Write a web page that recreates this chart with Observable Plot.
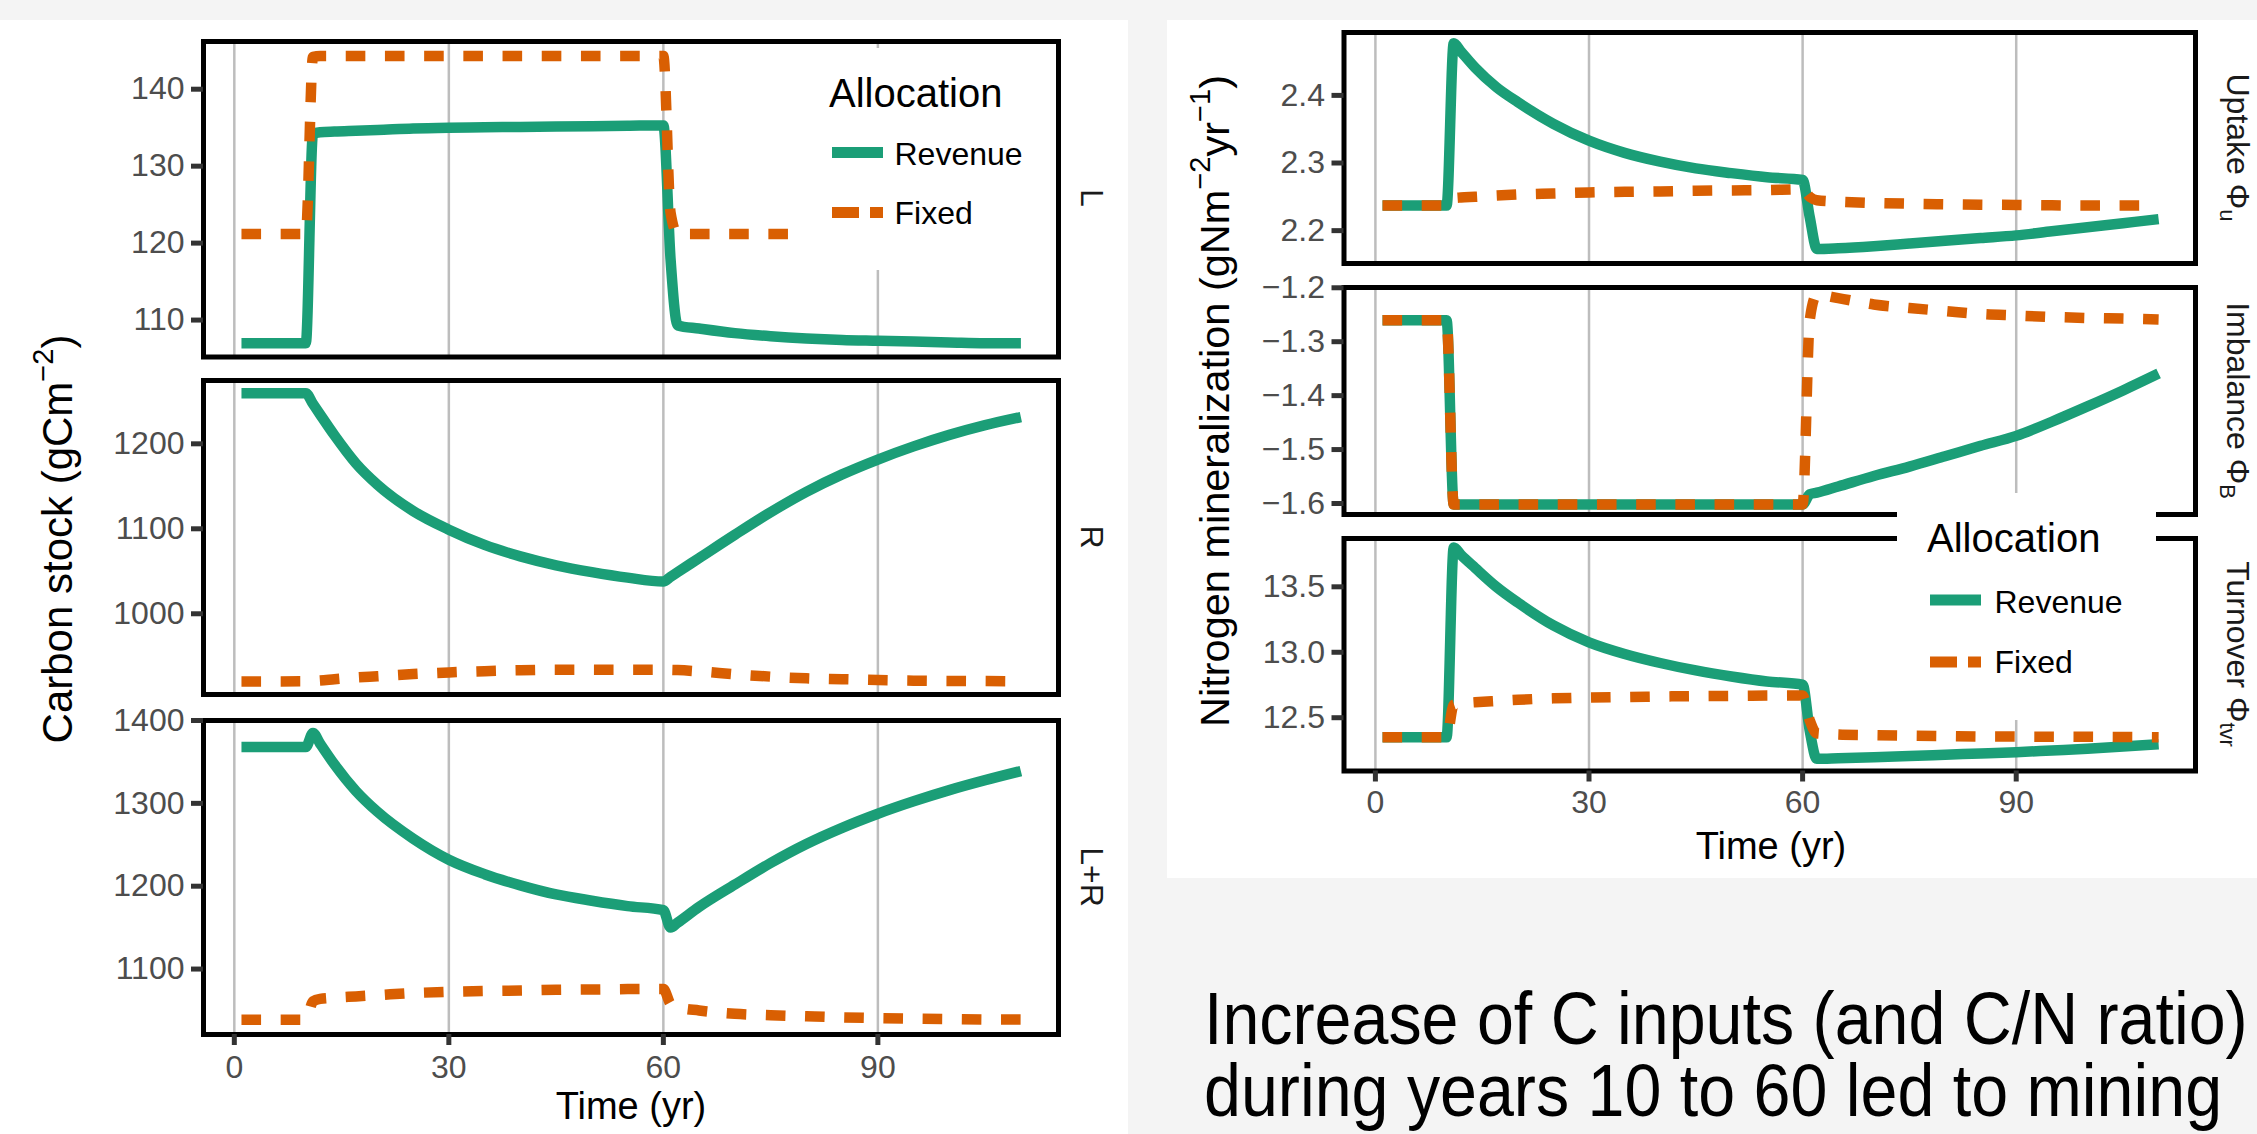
<!DOCTYPE html>
<html>
<head>
<meta charset="utf-8">
<script src="https://cdn.jsdelivr.net/npm/d3@7"></script>
<script src="https://cdn.jsdelivr.net/npm/@observablehq/plot@0.6"></script>
<style>
html, body { margin:0; padding:0; background:#f4f4f4; }
#page { position:relative; width:2257px; height:1134px; overflow:hidden; background:#f4f4f4; }
.panel { position:absolute; background:#fff; }
</style>
</head>
<body>
<div id="page">
  <div class="panel" style="left:0;top:20px;width:1128px;height:1114px"></div>
  <div class="panel" style="left:1167px;top:20px;width:1090px;height:858px"></div>
</div>
<script>
// ---------------- DATA ----------------
const years = [1, 10, 11, 12, 14, 17, 20, 25, 30, 35, 40, 45, 50, 55, 60, 61, 62, 65, 70, 75, 80, 85, 90, 95, 100, 105, 110];

// Carbon stock (gC m-2)
const leafRevenue  = [107.0, 107.0, 134.2, 134.4, 134.5, 134.6, 134.7, 134.9, 135.0, 135.05, 135.1, 135.15, 135.2, 135.25, 135.3, 118.0, 109.3, 108.9, 108.3, 107.9, 107.6, 107.4, 107.3, 107.2, 107.1, 107.0, 107.0];
const leafFixed    = [121.2, 121.2, 144.2, 144.3, 144.3, 144.3, 144.3, 144.3, 144.3, 144.3, 144.3, 144.3, 144.3, 144.3, 144.3, 124.0, 121.2, 121.2, 121.2, 121.2, 121.2, 121.2, 121.2, 121.2, 121.2, 121.2, 121.2];
const rootRevenue  = [1259.5, 1259.5, 1247, 1234.5, 1210, 1177, 1152, 1121, 1099, 1081, 1067.5, 1057, 1049, 1042.5, 1038, 1043.5, 1049, 1065.5, 1093, 1119.5, 1143.5, 1164, 1181.5, 1197, 1210.5, 1222, 1231.5];
const rootFixed    = [920.4, 920.5, 921, 921.5, 923, 925, 926.5, 929, 931, 932.5, 933.5, 934, 934, 934, 934, 934, 933.7, 932.2, 928.8, 926, 924, 923, 922, 921.3, 921, 920.8, 920.5];
const totalRevenue = [1368, 1368, 1385, 1372, 1347, 1315, 1290, 1257.5, 1232, 1214.5, 1201, 1190, 1182.5, 1176, 1171, 1150, 1156, 1175, 1202, 1228, 1251, 1270.5, 1287.5, 1302.5, 1316, 1328, 1339];
const totalFixed   = [1038.8, 1038.8, 1061, 1064, 1065.5, 1067, 1068.5, 1071, 1072.5, 1073.5, 1074, 1075, 1075.3, 1075.8, 1076, 1058, 1054, 1050, 1046, 1044.3, 1043, 1041.7, 1040.8, 1040.2, 1039.7, 1039.2, 1039];

// Nitrogen mineralization (gN m-2 yr-1)
const uptakeRevenue    = [2.237, 2.237, 2.477, 2.465, 2.441, 2.412, 2.390, 2.358, 2.333, 2.315, 2.302, 2.292, 2.285, 2.279, 2.275, 2.220, 2.173, 2.174, 2.177, 2.181, 2.185, 2.189, 2.193, 2.199, 2.205, 2.211, 2.217];
const uptakeFixed      = [2.237, 2.237, 2.248, 2.249, 2.250, 2.252, 2.2535, 2.255, 2.2565, 2.2575, 2.258, 2.259, 2.2595, 2.260, 2.261, 2.250, 2.245, 2.243, 2.241, 2.2398, 2.239, 2.2383, 2.238, 2.2375, 2.237, 2.237, 2.237];
const imbalanceRevenue = [-1.26, -1.26, -1.602, -1.602, -1.602, -1.602, -1.602, -1.602, -1.602, -1.602, -1.602, -1.602, -1.602, -1.602, -1.602, -1.583, -1.580, -1.5685, -1.549, -1.5316, -1.5124, -1.493, -1.4746, -1.4484, -1.420, -1.3904, -1.359];
const imbalanceFixed   = [-1.26, -1.26, -1.602, -1.602, -1.602, -1.602, -1.602, -1.602, -1.602, -1.602, -1.602, -1.602, -1.602, -1.602, -1.602, -1.26, -1.213, -1.2192, -1.231, -1.2375, -1.2432, -1.2486, -1.2514, -1.2541, -1.256, -1.2572, -1.2588];
const turnoverRevenue  = [12.351, 12.351, 13.80, 13.745, 13.645, 13.50, 13.38, 13.205, 13.076, 12.987, 12.918, 12.861, 12.815, 12.777, 12.753, 12.40, 12.186, 12.19, 12.198, 12.207, 12.217, 12.227, 12.237, 12.25, 12.263, 12.28, 12.297];
const turnoverFixed    = [12.351, 12.351, 12.60, 12.61, 12.618, 12.628, 12.637, 12.648, 12.654, 12.658, 12.662, 12.665, 12.667, 12.669, 12.67, 12.48, 12.38, 12.372, 12.367, 12.363, 12.36, 12.357, 12.356, 12.355, 12.354, 12.353, 12.351];

// Ticks & labels
const xTicks = [0, 30, 60, 90];
const leafTicks = [110, 120, 130, 140];
const rootTicks = [1000, 1100, 1200];
const totalTicks = [1100, 1200, 1300, 1400];
const uptakeTicks = [2.2, 2.3, 2.4];
const imbalanceTicks = [-1.6, -1.5, -1.4, -1.3, -1.2];
const turnoverTicks = [12.5, 13.0, 13.5];
const allocationLabels = ["Revenue", "Fixed"];
const carbonStrips = ["L", "R", "L+R"];
const nitrogenStrips = [["Uptake Φ", "u"], ["Imbalance Φ", "B"], ["Turnover Φ", "tvr"]];

// ---------------- DRAWING ----------------
const FONT = "'Liberation Sans', Arial, Helvetica, sans-serif";
const REV = "#1b9e77", FIX = "#d95f02";
const LW = 10.5;
const page = document.getElementById("page");
const series = vals => years.map((t, i) => ({t, v: vals[i]}));
const fmt1 = d => (d < 0 ? "\u2212" : "") + Math.abs(d).toFixed(1);
const fmt0 = d => String(d);

function facet(cfg) {
  const mt = 20;
  const mb = cfg.mb || 20;
  const h = cfg.frameBottom - cfg.frameTop + mt + mb;
  const marks = [
    Plot.ruleX(xTicks, {stroke: "#bdbdbd", strokeWidth: 2.5}),
    Plot.line(series(cfg.rev), {x: "t", y: "v", stroke: REV, strokeWidth: LW, curve: "monotone-x", strokeLinejoin: "round", strokeLinecap: "butt"}),
    Plot.line(series(cfg.fix), {x: "t", y: "v", stroke: FIX, strokeWidth: LW, strokeDasharray: "19.6,19.6", curve: "monotone-x", strokeLinejoin: "round", strokeLinecap: "butt"}),
    Plot.frame({stroke: "#000", strokeWidth: 5}),
    Plot.axisY(cfg.ticks, {tickSize: 12, tickPadding: 7, stroke: "#333", strokeWidth: 5, fill: "#4d4d4d", fontSize: 32, tickFormat: cfg.fmt, label: null})
  ];
  if (cfg.bottom) {
    marks.push(Plot.axisX(xTicks, {tickSize: 11, tickPadding: cfg.xPad, stroke: "#333", strokeWidth: 5, fill: "#4d4d4d", fontSize: 32, tickFormat: fmt0, label: null}));
  }
  const svg = Plot.plot({
    width: cfg.width, height: h,
    marginLeft: cfg.ml, marginRight: cfg.mr, marginTop: mt, marginBottom: mb,
    x: cfg.bottom ? {domain: cfg.xDomain} : {domain: cfg.xDomain, axis: null},
    y: {domain: cfg.yDomain},
    style: {background: "transparent", overflow: "visible", fontFamily: FONT},
    marks
  });
  svg.style.position = "absolute";
  svg.style.left = cfg.left + "px";
  svg.style.top = (cfg.frameTop - mt) + "px";
  page.appendChild(svg);
}

const leftChart = {left: 0, width: 1128, ml: 203, mr: 70, xDomain: [-4.31, 115.26]};
const rightChart = {left: 1167, width: 1090, ml: 176.5, mr: 62, xDomain: [-4.41, 115.18]};

facet({...leftChart, frameTop: 40.5, frameBottom: 356, yDomain: [105.2, 146.2], ticks: leafTicks, fmt: fmt0, rev: leafRevenue, fix: leafFixed});
facet({...leftChart, frameTop: 380, frameBottom: 694, yDomain: [905, 1274.5], ticks: rootTicks, fmt: fmt0, rev: rootRevenue, fix: rootFixed});
facet({...leftChart, frameTop: 720, frameBottom: 1034, yDomain: [1021, 1400], ticks: totalTicks, fmt: fmt0, rev: totalRevenue, fix: totalFixed, bottom: true, mb: 100, xPad: 10});

facet({...rightChart, frameTop: 32, frameBottom: 263, yDomain: [2.1514, 2.493], ticks: uptakeTicks, fmt: fmt1, rev: uptakeRevenue, fix: uptakeFixed});
facet({...rightChart, frameTop: 287, frameBottom: 514, yDomain: [-1.6204, -1.1995], ticks: imbalanceTicks, fmt: fmt1, rev: imbalanceRevenue, fix: imbalanceFixed});
facet({...rightChart, frameTop: 538, frameBottom: 770.5, yDomain: [12.093, 13.869], ticks: turnoverTicks, fmt: fmt1, rev: turnoverRevenue, fix: turnoverFixed, bottom: true, mb: 107.5, xPad: 8});

// ---------------- OVERLAY: titles, strips, legends, caption ----------------
const ov = d3.select(page).append("svg")
  .attr("width", 2257).attr("height", 1134)
  .style("position", "absolute").style("left", "0px").style("top", "0px")
  .style("font-family", FONT);

// Legends
function legend(b) {
  const g = ov.append("g");
  g.append("rect").attr("x", b.x).attr("y", b.y).attr("width", b.w).attr("height", b.h).attr("fill", "#fff");
  g.append("text").attr("x", b.tx).attr("y", b.ty).attr("font-size", 40).attr("fill", "#000").text("Allocation");
  g.append("line").attr("x1", b.kx).attr("x2", b.kx + 51).attr("y1", b.k1).attr("y2", b.k1)
    .attr("stroke", REV).attr("stroke-width", 11);
  g.append("line").attr("x1", b.kx).attr("x2", b.kx + 51).attr("y1", b.k2).attr("y2", b.k2)
    .attr("stroke", FIX).attr("stroke-width", 11).attr("stroke-dasharray", "27,11");
  g.append("text").attr("x", b.lx).attr("y", b.k1 + 12.5).attr("font-size", 32).attr("fill", "#000").text(allocationLabels[0]);
  g.append("text").attr("x", b.lx).attr("y", b.k2 + 11).attr("font-size", 32).attr("fill", "#000").text(allocationLabels[1]);
}
legend({x: 798, y: 48, w: 257, h: 222, tx: 829, ty: 107, kx: 832, k1: 152.5, k2: 212.5, lx: 894.5});
legend({x: 1897, y: 493, w: 259, h: 227, tx: 1927, ty: 552, kx: 1930, k1: 600, k2: 662, lx: 1994.5});

// Y axis titles
{
  const t = ov.append("text").attr("transform", "translate(72,539) rotate(-90)")
    .attr("text-anchor", "middle").attr("font-size", 42).attr("fill", "#000");
  t.append("tspan").text("Carbon stock (gCm");
  t.append("tspan").attr("font-size", 29).attr("dy", -19).text("\u22122");
  t.append("tspan").attr("dy", 19).text(")");
}
{
  const t = ov.append("text").attr("transform", "translate(1229,401) rotate(-90)")
    .attr("text-anchor", "middle").attr("font-size", 41.5).attr("fill", "#000");
  t.append("tspan").text("Nitrogen mineralization (gNm");
  t.append("tspan").attr("font-size", 29).attr("dy", -19).text("\u22122");
  t.append("tspan").attr("dy", 19).text("yr");
  t.append("tspan").attr("font-size", 29).attr("dy", -19).text("\u22121");
  t.append("tspan").attr("dy", 19).text(")");
}

// X axis titles
ov.append("text").attr("x", 631).attr("y", 1119).attr("text-anchor", "middle").attr("font-size", 38).attr("fill", "#000").text("Time (yr)");
ov.append("text").attr("x", 1771).attr("y", 859).attr("text-anchor", "middle").attr("font-size", 38).attr("fill", "#000").text("Time (yr)");

// Strip labels
[198, 537, 877].forEach((cy, i) => {
  ov.append("text").attr("transform", `translate(1081,${cy}) rotate(90)`)
    .attr("text-anchor", "middle").attr("font-size", 32).attr("fill", "#1a1a1a").text(carbonStrips[i]);
});
[147.5, 400.5, 654].forEach((cy, i) => {
  const t = ov.append("text").attr("transform", `translate(2227,${cy}) rotate(90)`)
    .attr("text-anchor", "middle").attr("font-size", 32).attr("fill", "#1a1a1a");
  t.append("tspan").text(nitrogenStrips[i][0]);
  t.append("tspan").attr("font-size", 22).attr("dy", 7).text(nitrogenStrips[i][1]);
});

// Caption text
{
  const g = ov.append("g").attr("transform", "translate(1204,1044) scale(0.885,1)");
  g.append("text").attr("x", 0).attr("y", 0).attr("font-size", 75).attr("fill", "#000").text("Increase of C inputs (and C/N ratio)");
  g.append("text").attr("x", 0).attr("y", 72).attr("font-size", 75).attr("fill", "#000").text("during years 10 to 60 led to mining");
}
</script>
</body>
</html>
